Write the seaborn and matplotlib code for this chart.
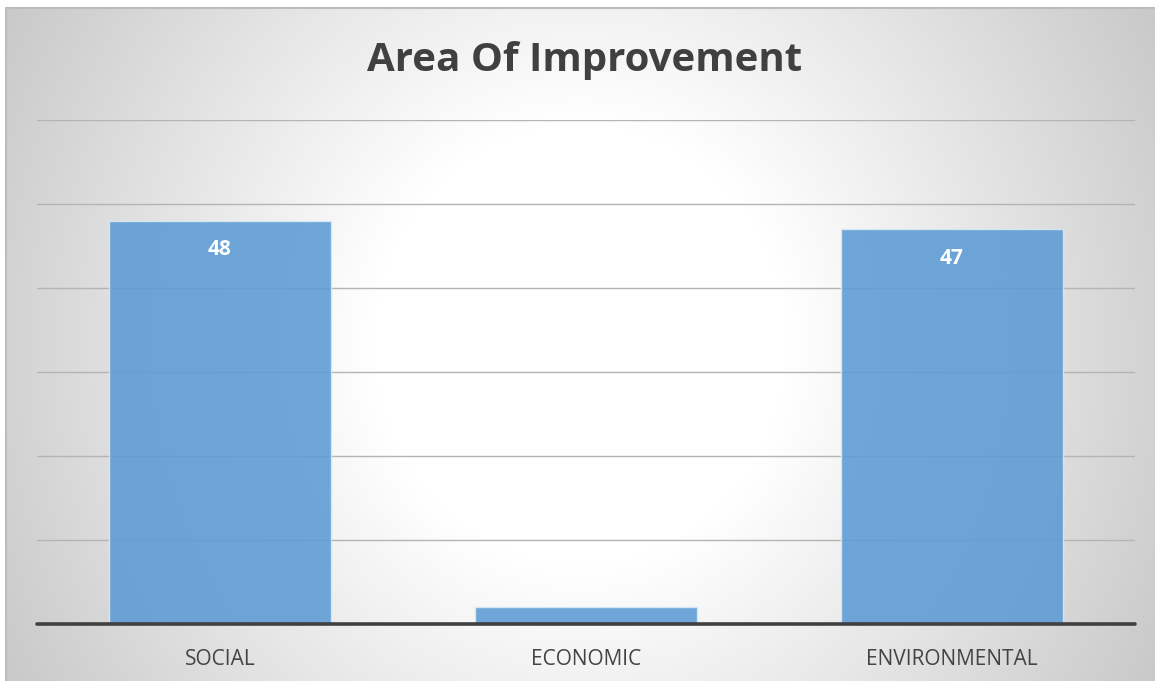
import numpy as np
import matplotlib
matplotlib.use("Agg")
import matplotlib.pyplot as plt
import seaborn as sns
import pandas as pd

categories = ["SOCIAL", "ECONOMIC", "ENVIRONMENTAL"]
values = [48, 2, 47]
labels = ["48", "", "47"]
y_ticks = [0, 10, 20, 30, 40, 50, 60]

sns.set_theme(style="white")
plt.rcParams["font.family"] = ["Open Sans", "DejaVu Sans"]

W, H = 1155, 681
fig = plt.figure(figsize=(W / 100, H / 100), dpi=100)
fig.patch.set_facecolor("white")

# Radial gradient backdrop for the chart area
bg = fig.add_axes([6 / W, 0, 1 - 6 / W, 1 - 8 / H])
bg.set_axis_off()
gw, gh = 600, 360
xx, yy = np.meshgrid(np.linspace(0, 1, gw), np.linspace(0, 1, gh))
d = np.sqrt(((xx - 0.5) / 0.55) ** 2 + ((yy - 0.5) / 1.0) ** 2)
shade = 1.0 - 0.30 * np.clip(d - 0.33, 0, None)
shade = np.clip(shade, 0.75, 1.0)
bg.imshow(np.dstack([shade] * 3), extent=[0, 1, 0, 1], aspect="auto", origin="upper")
bg.set_xlim(0, 1)
bg.set_ylim(0, 1)
bg.plot([0, 1], [1, 1], color="#bdbdbd", lw=1.5, transform=bg.transAxes, clip_on=False)
bg.plot([0, 0], [0, 1], color="#bdbdbd", lw=1.5, transform=bg.transAxes, clip_on=False)

ax = fig.add_axes([37 / W, 57 / H, (1135 - 37) / W, (624 - 120) / H])
ax.patch.set_alpha(0)

df = pd.DataFrame({"category": categories, "value": values})
sns.barplot(data=df, x="category", y="value", color="#5b9bd5", width=0.604,
            saturation=1, alpha=0.88, edgecolor="#dce9f5", linewidth=1, ax=ax, zorder=3)

ax.set_ylim(0, 60)
ax.set_xlim(-0.5, 2.5)
ax.set_yticks(y_ticks)
ax.set_yticklabels([])
for t in y_ticks[1:]:
    ax.axhline(t, color="#b4b4b4", lw=1, zorder=1)
ax.axhline(0, color="#404040", lw=2.6, zorder=4, clip_on=False)

for s in ax.spines.values():
    s.set_visible(False)
ax.tick_params(axis="y", length=0)
ax.tick_params(axis="x", length=0, pad=18, labelsize=15, labelcolor="#444444")
ax.set_xlabel("")
ax.set_ylabel("")

for i, (v, lab) in enumerate(zip(values, labels)):
    if lab:
        ax.annotate(lab, (i, v), xytext=(0, -29), textcoords="offset pixels",
                    ha="center", va="center", color="white", fontsize=15,
                    fontweight="bold", zorder=5)

fig.text(585 / W, 1 - 61 / H, "Area Of Improvement", ha="center", va="center",
         fontsize=29, fontweight="bold", color="#404040")

fig.savefig("out.png", dpi=100)
